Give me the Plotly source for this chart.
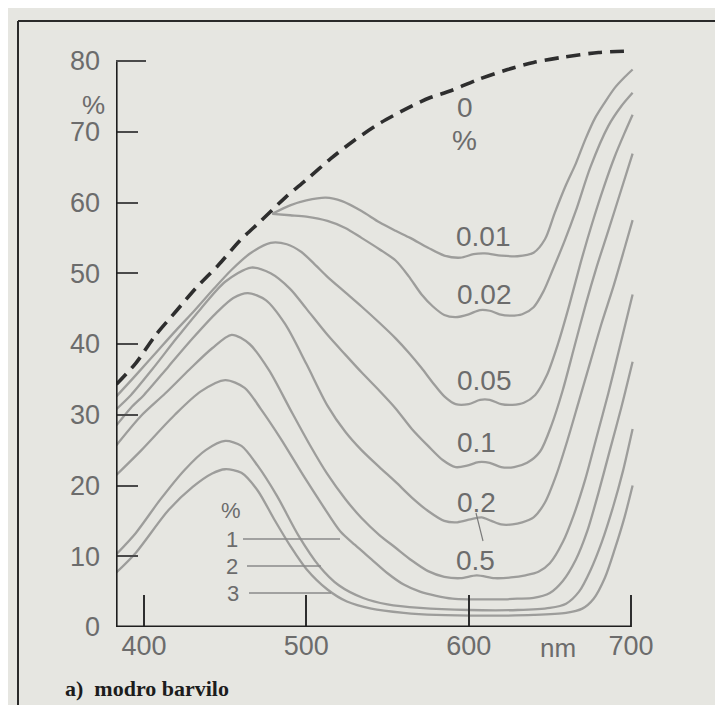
import plotly.graph_objects as go

# ---------------- data ----------------
# dashed curve: 0 % dye
wl_0 = [383, 395, 407, 420, 432, 446, 459, 472, 487, 500, 515, 529, 546, 563, 576, 589, 606, 624, 640, 657, 680, 700]
v_0 = [34.3, 37.3, 41.2, 44.7, 47.9, 51.2, 54.6, 57.4, 60.7, 63.2, 66.2, 68.7, 71.3, 73.4, 74.8, 75.8, 77.4, 78.8, 79.8, 80.5, 81.2, 81.4]

wl_001 = [479, 490, 500, 512, 522, 534, 545, 555, 564, 575, 585, 595, 603, 610, 620, 630, 640, 647, 653, 660, 666, 672, 678, 684, 690, 696, 701]
v_001 = [58.4, 59.6, 60.3, 60.7, 60.2, 58.8, 57.2, 56.0, 55.0, 53.6, 52.5, 52.2, 52.7, 52.8, 52.5, 52.4, 52.9, 54.8, 58.5, 62.5, 65.5, 69.0, 72.0, 74.2, 76.2, 77.7, 78.8]

wl_002 = [479, 490, 500, 513, 524, 534, 545, 555, 563, 571, 578, 585, 592, 600, 607, 613, 619, 626, 633, 640, 646, 652, 659, 666, 675, 686, 694, 701]
v_002 = [58.4, 58.2, 58.0, 57.4, 56.4, 55.0, 53.4, 51.8, 49.6, 47.0, 45.3, 44.1, 43.8, 44.2, 44.8, 44.7, 44.2, 44.0, 44.2, 45.2, 47.4, 50.6, 54.5, 58.8, 65.0, 70.8, 73.6, 75.5]

wl_005 = [383, 395, 409, 420, 431, 443, 454, 466, 478, 488, 497, 505, 513, 524, 534, 545, 555, 563, 571, 578, 585, 592, 600, 607, 613, 620, 627, 634, 641, 648, 655, 662, 669, 676, 683, 690, 696, 701]
v_005 = [32.6, 35.6, 39.2, 42.0, 44.7, 47.8, 50.5, 52.9, 54.3, 54.1, 53.0, 51.3, 49.5, 47.3, 45.3, 43.0, 40.8, 38.8, 36.6, 34.5, 32.6, 31.5, 31.5, 32.1, 32.1, 31.5, 31.4, 31.7, 32.8, 35.5, 40.0, 45.5, 51.5, 57.0, 62.0, 66.5, 69.8, 72.4]

wl_01 = [383, 392, 405, 420, 435, 450, 466, 478, 490, 500, 513, 524, 534, 545, 555, 565, 575, 584, 592, 599, 606, 613, 620, 628, 636, 644, 651, 658, 665, 672, 679, 686, 694, 701]
v_01 = [30.8, 32.8, 36.4, 40.8, 45.0, 48.8, 50.8, 50.0, 47.8, 45.0, 41.3, 38.5, 36.0, 33.4, 30.9, 28.0, 25.6, 23.6, 22.6, 22.8, 23.3, 23.2, 22.6, 22.6, 23.2, 24.8, 28.5, 33.5, 39.5, 45.5, 51.0, 56.0, 61.8, 66.9]

wl_02 = [383, 392, 400, 415, 430, 445, 455, 464, 475, 487, 500, 513, 524, 534, 545, 555, 565, 575, 585, 593, 601, 608, 614, 620, 627, 633, 640, 647, 654, 661, 668, 675, 682, 689, 696, 701]
v_02 = [28.5, 31.0, 32.8, 36.8, 40.8, 44.5, 46.5, 47.2, 46.2, 42.8, 37.2, 31.3, 27.6, 25.0, 22.6, 20.5, 18.3, 16.4, 15.0, 14.8, 15.2, 15.5, 15.0, 14.5, 14.5, 14.8, 15.5, 17.6, 21.5, 26.5, 32.0, 37.5, 43.0, 48.0, 53.5, 57.5]

wl_05 = [383, 398, 413, 428, 442, 454, 465, 477, 490, 502, 513, 524, 534, 545, 555, 565, 575, 585, 595, 605, 616, 626, 635, 643, 650, 658, 665, 672, 679, 686, 693, 701]
v_05 = [25.7, 29.8, 33.0, 36.4, 39.4, 41.3, 40.0, 36.3, 30.8, 25.8, 21.6, 18.1, 15.4, 13.0, 11.2, 9.4, 7.9, 7.1, 6.9, 7.3, 6.9, 7.0, 7.3, 7.8, 9.0, 12.0, 16.0, 21.0, 27.0, 33.0, 39.5, 47.0]

wl_1 = [383, 398, 419, 435, 450, 462, 472, 484, 499, 510, 521, 530, 540, 550, 560, 570, 580, 590, 600, 610, 620, 630, 640, 650, 658, 666, 673, 680, 687, 694, 701]
v_1 = [21.5, 24.9, 30.0, 33.3, 34.9, 33.8, 30.8, 26.7, 21.1, 17.2, 13.5, 11.6, 9.6, 7.6, 6.0, 5.0, 4.4, 4.0, 3.9, 3.9, 3.9, 4.0, 4.1, 4.8, 6.5, 9.5, 13.5, 19.0, 25.0, 31.0, 37.5]

wl_2 = [383, 395, 410, 425, 438, 450, 460, 470, 482, 495, 508, 520, 535, 550, 570, 600, 630, 650, 660, 668, 675, 682, 689, 695, 701]
v_2 = [10.3, 13.3, 18.0, 22.2, 25.0, 26.3, 25.6, 22.8, 18.5, 13.0, 8.6, 5.9, 4.1, 3.2, 2.7, 2.4, 2.4, 2.7, 3.3, 5.0, 8.0, 12.0, 17.0, 22.0, 28.0]

wl_3 = [383, 395, 415, 430, 442, 450, 460, 470, 480, 490, 500, 513, 525, 540, 560, 580, 610, 640, 660, 670, 677, 684, 690, 696, 701]
v_3 = [7.7, 10.5, 16.5, 19.8, 21.7, 22.3, 21.8, 19.3, 15.3, 11.5, 8.2, 5.3, 3.6, 2.6, 2.0, 1.7, 1.6, 1.7, 2.0, 2.6, 4.0, 7.0, 11.0, 15.5, 20.0]

x_ticks = [400, 500, 600, 700]
y_ticks = [0, 10, 20, 30, 40, 50, 60, 70, 80]
conc_labels = ["0.01", "0.02", "0.05", "0.1", "0.2", "0.5", "1", "2", "3"]
caption = "<b>a)  modro barvilo</b>"

# ---------------- layout helpers ----------------
W, H = 723, 705
L, R, T, B = 108, 93, 35, 86
PW, PH = W - L - R, H - T - B
PX_PER_NM = 1.6233
PX_PER_UNIT = 7.075
X0 = 400 - (136 - L) / PX_PER_NM
X1 = X0 + PW / PX_PER_NM
Y1 = PH / PX_PER_UNIT

def nm(px):
    return X0 + (px - L) / PX_PER_NM

def val(py):
    return (H - B - py) / PX_PER_UNIT

def pxp(px):
    return (px - L) / PW

def pyp(py):
    return (H - B - py) / PH

BG = "#e6e6e1"
CURVE = "#9d9d9b"
TXT = "#6c6c6c"
SANS = "Liberation Sans, Arial, sans-serif"

fig = go.Figure()

series = [(wl_001, v_001), (wl_002, v_002), (wl_005, v_005), (wl_01, v_01), (wl_02, v_02),
          (wl_05, v_05), (wl_1, v_1), (wl_2, v_2), (wl_3, v_3)]
for (xs, ys), name in zip(series, conc_labels):
    fig.add_trace(go.Scatter(x=xs, y=ys, mode="lines", name=name,
                             line=dict(color=CURVE, width=2.3, shape="spline", smoothing=0.8),
                             hoverinfo="skip", cliponaxis=False))

fig.add_trace(go.Scatter(x=wl_0, y=v_0, mode="lines", name="0",
                         line=dict(color="#2e2e2e", width=3.6, dash="14px,8px", shape="spline", smoothing=0.8),
                         hoverinfo="skip", cliponaxis=False))

shapes = []
# axis lines
shapes.append(dict(type="line", xref="x", yref="y", x0=X0, x1=700, y0=0, y1=0,
                   line=dict(color="#1e1e1e", width=3.2)))
shapes.append(dict(type="line", xref="x", yref="y", x0=X0, x1=X0, y0=0, y1=80,
                   line=dict(color="#1e1e1e", width=3.2)))
# longer tick at 80
shapes.append(dict(type="line", xref="x", yref="y", x0=X0, x1=nm(138), y0=80, y1=80,
                   line=dict(color="#4a4a4a", width=2)))
# frame of the figure panel
shapes.append(dict(type="line", xref="paper", yref="paper", x0=pxp(10), x1=pxp(723), y0=pyp(13), y1=pyp(13),
                   line=dict(color="#2a2a2a", width=2)))
shapes.append(dict(type="line", xref="paper", yref="paper", x0=pxp(10), x1=pxp(10), y0=pyp(13), y1=pyp(705),
                   line=dict(color="#2a2a2a", width=2)))
# legend leader lines (1, 2, 3) and 0.2 -> 0.5 pointer
for (a, b, yy) in [(235, 332, 531), (239, 313, 558), (241, 323, 585)]:
    shapes.append(dict(type="line", xref="x", yref="y", x0=nm(a), x1=nm(b), y0=val(yy), y1=val(yy),
                       line=dict(color="#8a8a8a", width=1.3)))
shapes.append(dict(type="line", xref="x", yref="y", x0=nm(468), x1=nm(475), y0=val(505), y1=val(533),
                   line=dict(color="#7a7a7a", width=1.2)))

annotations = []
label_pos = [("0", 457, 99, 28), ("%", 456, 132, 28), ("0.01", 475, 228, 28), ("0.02", 476, 286, 28),
             ("0.05", 476, 372, 28), ("0.1", 468, 434, 28), ("0.2", 468, 494, 28), ("0.5", 467, 552, 28),
             ("%", 223, 502, 22), ("1", 224, 531, 22), ("2", 224, 558, 22), ("3", 225, 585, 22)]
for text, px, py, fs in label_pos:
    annotations.append(dict(x=nm(px), y=val(py), xref="x", yref="y", text=text, showarrow=False,
                            xanchor="center", yanchor="middle", borderpad=0,
                            font=dict(family=SANS, size=fs, color=TXT)))
annotations.append(dict(x=pxp(85), y=pyp(97), xref="paper", yref="paper", text="%", showarrow=False,
                        xanchor="center", yanchor="middle", font=dict(family=SANS, size=26, color=TXT)))
annotations.append(dict(x=pxp(550), y=pyp(640), xref="paper", yref="paper", text="nm", showarrow=False,
                        xanchor="center", yanchor="middle", font=dict(family=SANS, size=26, color=TXT)))
annotations.append(dict(x=pxp(55), y=pyp(680), xref="paper", yref="paper", text=caption, showarrow=False,
                        xanchor="left", yanchor="middle",
                        font=dict(family="Liberation Serif, Times New Roman, serif", size=22, color="#1c1c1c")))

fig.update_layout(
    width=W, height=H,
    margin=dict(l=L, r=R, t=T, b=B, pad=0),
    paper_bgcolor=BG, plot_bgcolor=BG,
    showlegend=False,
    shapes=shapes, annotations=annotations,
    xaxis=dict(range=[X0, X1], tickvals=x_ticks, ticktext=[str(v) for v in x_ticks],
               ticks="inside", ticklen=32, tickwidth=2, tickcolor="#2e2e2e",
               showgrid=False, zeroline=False, showline=False, ticklabelstandoff=0,
               tickfont=dict(family=SANS, size=27, color=TXT), fixedrange=True),
    yaxis=dict(range=[0, Y1], tickvals=y_ticks, ticktext=[str(v) for v in y_ticks],
               ticks="inside", ticklen=22, tickwidth=2, tickcolor="#4a4a4a",
               showgrid=False, zeroline=False, showline=False, ticklabelstandoff=15,
               tickfont=dict(family=SANS, size=27, color=TXT), fixedrange=True),
)

fig.write_html("out.html", config=dict(displayModeBar=False))
